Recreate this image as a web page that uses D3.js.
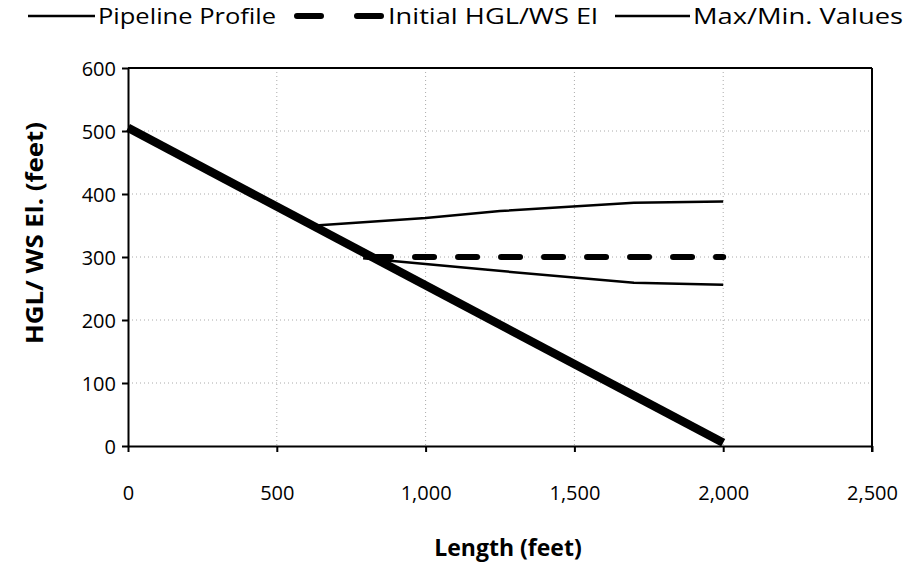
<!DOCTYPE html>
<html><head><meta charset="utf-8">
<script src="https://cdn.jsdelivr.net/npm/d3@7/dist/d3.min.js"></script>
<style>body{margin:0;background:#fff}svg{display:block}</style>
</head><body>
<svg id="c" width="908" height="568"></svg>
<script>
const xTicks = [0, 500, 1000, 1500, 2000, 2500];
const yTicks = [0, 100, 200, 300, 400, 500, 600];
const pipeX = [0, 2000];
const pipeY = [505, 5];
const initX = [820, 2000];
const initY = [300, 300];
const maxX = [630, 1000, 1250, 1700, 2000];
const maxY = [350, 362, 373, 386, 388];
const minX = [790, 1200, 1700, 2000];
const minY = [298, 280, 259, 256];
const legendNames = ["Pipeline Profile", "Initial HGL/WS El", "Max/Min. Values"];

const font = "'Open Sans', sans-serif";
const svg = d3.select("#c");
const L = 128, R = 872, T = 68, B = 446;
const x = d3.scaleLinear().domain([0, 2500]).range([L, R]);
const y = d3.scaleLinear().domain([0, 600]).range([B, T]);

// grid
const g = svg.append("g");
g.selectAll(".vg").data(xTicks.slice(1, -1)).join("line")
  .attr("x1", d => x(d)).attr("x2", d => x(d)).attr("y1", T).attr("y2", B)
  .attr("stroke", "#aaa").attr("stroke-width", 1).attr("stroke-dasharray", "1,3");
g.selectAll(".hg").data(yTicks.slice(1, -1)).join("line")
  .attr("x1", L).attr("x2", R).attr("y1", d => y(d)).attr("y2", d => y(d))
  .attr("stroke", "#aaa").attr("stroke-width", 1).attr("stroke-dasharray", "1,3");

// axes
const xa = svg.append("g").attr("transform", `translate(0,${B})`)
  .call(d3.axisBottom(x).tickValues(xTicks).tickSize(6).tickSizeOuter(0).tickFormat(d3.format(",")));
const ya = svg.append("g").attr("transform", `translate(${L},0)`)
  .call(d3.axisLeft(y).tickValues(yTicks).tickSize(6).tickSizeOuter(0));
[xa, ya].forEach(a => {
  a.select(".domain").attr("stroke", "#000").attr("stroke-width", 2);
  a.selectAll(".tick line").attr("stroke", "#000").attr("stroke-width", 2);
  a.selectAll("text").attr("font-family", font).attr("font-size", 20).attr("fill", "#000");
});
xa.selectAll("text").attr("dy", "0").attr("y", 54);
ya.selectAll("text").attr("x", -12).attr("dy", "0.35em");
// top and right border
svg.append("line").attr("x1", L).attr("x2", R).attr("y1", T).attr("y2", T).attr("stroke", "#000").attr("stroke-width", 2);
svg.append("line").attr("x1", R).attr("x2", R).attr("y1", T).attr("y2", B + 6).attr("stroke", "#000").attr("stroke-width", 2);

const line = d3.line().x(d => x(d[0])).y(d => y(d[1]));
const zip = (a, b) => a.map((v, i) => [v, b[i]]);

svg.append("path").datum(zip(maxX, maxY)).attr("d", line)
  .attr("fill", "none").attr("stroke", "#000").attr("stroke-width", 2.5);
svg.append("path").datum(zip(minX, minY)).attr("d", line)
  .attr("fill", "none").attr("stroke", "#000").attr("stroke-width", 2.5);
svg.append("path").datum(zip(initX, initY)).attr("d", line)
  .attr("fill", "none").attr("stroke", "#000").attr("stroke-width", 6)
  .attr("stroke-linecap", "round").attr("stroke-dasharray", "19,24");
svg.append("path").datum(zip(pipeX, pipeY)).attr("d", line)
  .attr("fill", "none").attr("stroke", "#000").attr("stroke-width", 8.5);

// axis titles
svg.append("text").attr("x", 508).attr("y", 556).attr("text-anchor", "middle")
  .attr("font-family", font).attr("font-weight", "bold").attr("font-size", 23).text("Length (feet)");
svg.append("text").attr("transform", "translate(43,233) rotate(-90)").attr("text-anchor", "middle")
  .attr("font-family", font).attr("font-weight", "bold").attr("font-size", 24)
  .attr("textLength", 222).attr("lengthAdjust", "spacingAndGlyphs").text("HGL/ WS El. (feet)");

// legend
const leg = [
  {x1: 28, x2: 95, tx: 98, w: 178, sw: 2.5, dash: null},
  {x1: 297, x2: 383, tx: 388, w: 210, sw: 6, dash: "24,36"},
  {x1: 615, x2: 690, tx: 693, w: 210, sw: 2.5, dash: null}
];
leg.forEach((d, i) => {
  svg.append("line").attr("x1", d.x1).attr("x2", d.x2).attr("y1", 16).attr("y2", 16)
    .attr("stroke", "#000").attr("stroke-width", d.sw)
    .attr("stroke-dasharray", d.dash).attr("stroke-linecap", d.dash ? "round" : "butt");
  svg.append("text").attr("x", d.tx).attr("y", 24).attr("font-family", font).attr("font-size", 22)
    .attr("textLength", d.w).attr("lengthAdjust", "spacingAndGlyphs").text(legendNames[i]);
});
</script>
</body></html>
